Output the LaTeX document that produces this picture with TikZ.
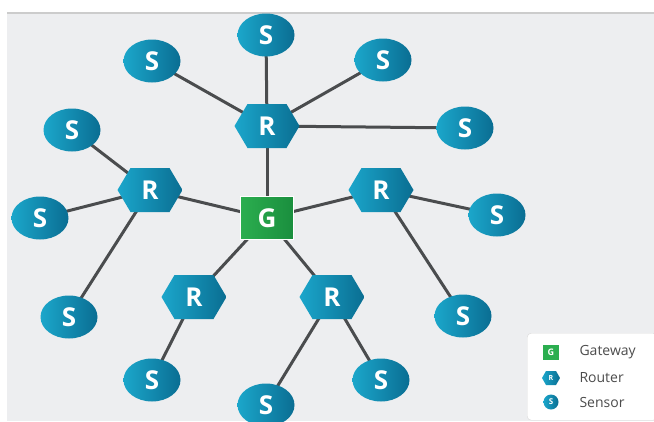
\documentclass[tikz,border=0pt]{standalone}
\usepackage{fontspec}
\setmainfont{Open Sans}
\usetikzlibrary{shapes.geometric}
\definecolor{bgc}{HTML}{EDEEF0}
\definecolor{tealL}{HTML}{1BA6CB}
\definecolor{tealR}{HTML}{0A6E92}
\definecolor{grnL}{HTML}{2BAE4F}
\definecolor{grnR}{HTML}{1A8E3E}
\definecolor{linec}{HTML}{4A4C4E}
\pgfdeclarelayer{bglayer}
\pgfdeclarelayer{linklayer}
\pgfsetlayers{bglayer,linklayer,main}
\tikzset{
  bigtext/.style={text=white, font=\fontsize{26}{26}\selectfont\bfseries},
  sensor/.style={ellipse, minimum width=57pt, minimum height=43pt, inner sep=0pt,
    left color=tealL, right color=tealR, bigtext},
  router/.style={rectangle, minimum width=65pt, minimum height=44pt, inner sep=0pt, bigtext,
    path picture={\shade[left color=tealL,right color=tealR]
      (path picture bounding box.west)
      -- ([xshift=13pt]path picture bounding box.north west)
      -- ([xshift=-13pt]path picture bounding box.north east)
      -- (path picture bounding box.east)
      -- ([xshift=-13pt]path picture bounding box.south east)
      -- ([xshift=13pt]path picture bounding box.south west) -- cycle;}},
  gateway/.style={rectangle, minimum width=53pt, minimum height=43pt, inner sep=0pt,
    left color=grnL, right color=grnR, draw=white, line width=1pt, bigtext},
  link/.style={draw=linec, line width=3pt},
  lsensor/.style={circle, minimum size=15pt, inner sep=0pt, left color=tealL, right color=tealR,
    text=white, font=\fontsize{8}{8}\selectfont\bfseries},
  lrouter/.style={rectangle, minimum width=18pt, minimum height=14pt, inner sep=0pt,
    text=white, font=\fontsize{7}{7}\selectfont\bfseries,
    path picture={\shade[left color=tealL,right color=tealR]
      (path picture bounding box.west)
      -- ([xshift=4pt]path picture bounding box.north west)
      -- ([xshift=-4pt]path picture bounding box.north east)
      -- (path picture bounding box.east)
      -- ([xshift=-4pt]path picture bounding box.south east)
      -- ([xshift=4pt]path picture bounding box.south west) -- cycle;}},
  lgate/.style={rectangle, minimum width=16pt, minimum height=15pt, inner sep=0pt, fill=grnL,
    text=white, font=\fontsize{9}{9}\selectfont\bfseries},
  ltext/.style={anchor=west, text=black!70, font=\fontsize{14}{14}\selectfont},
}
\begin{document}
\begin{tikzpicture}[x=1pt,y=-1pt]
\useasboundingbox (0,0) rectangle (654,421);
\begin{pgfonlayer}{bglayer}
\fill[white] (0,0) rectangle (654,421);
\fill[bgc] (7,12) rectangle (654,421);
\fill[black!20] (7,12) rectangle (654,14);
\end{pgfonlayer}
% nodes
\node[gateway] (G) at (267,218) {G};
\node[router] (R1) at (267,126) {R};
\node[router] (R2) at (150,190) {R};
\node[router] (R3) at (381,190) {R};
\node[router] (R4) at (194,297) {R};
\node[router] (R5) at (332,297) {R};
\node[sensor] (S1) at (152,61) {S};
\node[sensor] (S2) at (266,35) {S};
\node[sensor] (S3) at (383,60) {S};
\node[sensor] (S4) at (465,128) {S};
\node[sensor] (S5) at (72,130) {S};
\node[sensor] (S6) at (40,218) {S};
\node[sensor] (S7) at (497,215) {S};
\node[sensor] (S8) at (69,317) {S};
\node[sensor] (S9) at (463,316) {S};
\node[sensor] (S10) at (152,380) {S};
\node[sensor] (S11) at (381,380) {S};
\node[sensor] (S12) at (266,405) {S};
% links
\begin{pgfonlayer}{linklayer}
\foreach \a/\b in {R1/S1,R1/S2,R1/S3,R1/S4,R1/G,R2/S5,R2/S6,R2/S8,R2/G,R3/S7,R3/S9,R3/G,R4/S10,R4/G,R5/S11,R5/S12,R5/G}
  \draw[link] (\a.center) -- (\b.center);
\end{pgfonlayer}
% legend
\node[draw=black!15, fill=white, rounded corners=4pt, minimum width=130pt, minimum height=87pt, anchor=north west] (L) at (527,333) {};
\node[lgate] (LG) at (551,352) {G};
\node[lrouter] (LR) at (551,378) {R};
\node[lsensor] (LS) at (551,402) {S};
\node[ltext] (TG) at (576,352) {Gateway};
\node[ltext] (TR) at (576,378) {Router};
\node[ltext] (TS) at (576,402) {Sensor};
\end{tikzpicture}
\end{document}
